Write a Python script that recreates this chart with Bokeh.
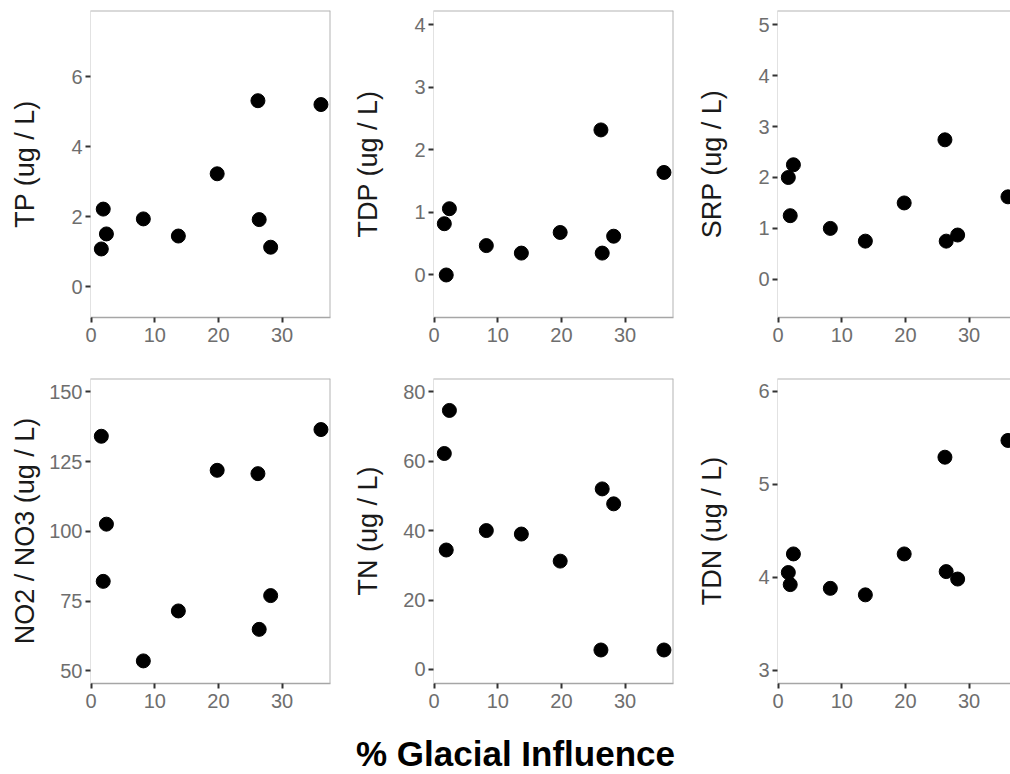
from bokeh.plotting import figure
from bokeh.layouts import column, row
from bokeh.models import FixedTicker, Range1d, Span, Label
from bokeh.embed import file_html
from bokeh.resources import INLINE

# ---- data ----
glacial = [1.6, 1.9, 2.4, 8.2, 13.7, 19.8, 26.2, 26.4, 28.2, 36.1]
tp = [1.08, 2.22, 1.51, 1.94, 1.45, 3.23, 5.32, 1.92, 1.13, 5.21]
tdp = [0.82, 0.00, 1.06, 0.47, 0.35, 0.68, 2.32, 0.35, 0.62, 1.64]
srp = [2.00, 1.25, 2.25, 1.00, 0.75, 1.50, 2.74, 0.75, 0.87, 1.62]
no2no3 = [134.1, 82.1, 102.6, 53.6, 71.5, 121.9, 120.7, 64.9, 77.0, 136.5]
tn = [62.2, 34.4, 74.6, 40.0, 39.0, 31.2, 5.6, 52.0, 47.7, 5.6]
tdn = [4.05, 3.92, 4.25, 3.88, 3.81, 4.25, 5.29, 4.06, 3.98, 5.47]

x_ticks = [0, 10, 20, 30]
labels = ["TP (ug / L)", "TDP (ug / L)", "SRP (ug / L)",
          "NO2 / NO3 (ug / L)", "TN (ug / L)", "TDN (ug / L)"]
y_ticks = [[0, 2, 4, 6], [0, 1, 2, 3, 4], [0, 1, 2, 3, 4, 5],
           [50, 75, 100, 125, 150], [0, 20, 40, 60, 80], [3, 4, 5, 6]]
y_lims = [(-0.88, 7.9), (-0.68, 4.23), (-0.75, 5.28),
          (45.5, 154.8), (-4.05, 83.8), (2.857, 6.136)]
series = [tp, tdp, srp, no2no3, tn, tdn]
x_title = "% Glacial Influence"

FONT = "Liberation Sans"
TICK_COL = "#6e6e6e"
BORDER = "#b3b3b3"


def panel(i, width, height, top, bottom, right_border, x_end, cut):
    f = figure(width=width, height=height, output_backend="svg",
               toolbar_location=None,
               x_range=Range1d(-0.1, x_end),
               y_range=Range1d(*y_lims[i]),
               min_border_left=90, min_border_right=right_border,
               min_border_top=top, min_border_bottom=bottom)
    f.outline_line_color = None
    f.background_fill_color = "white"
    f.border_fill_color = "white"
    f.grid.visible = False
    f.scatter(glacial, series[i], size=14, color="black")
    for ax in (f.xaxis[0], f.yaxis[0]):
        ax.major_tick_out = 5
        ax.major_tick_in = 0
        ax.minor_tick_out = 0
        ax.minor_tick_in = 0
        ax.major_tick_line_color = "#333333"
        ax.major_tick_line_width = 2
        ax.major_label_text_font = FONT
        ax.major_label_text_font_size = "20px"
        ax.major_label_text_color = TICK_COL
    f.xaxis.ticker = FixedTicker(ticks=x_ticks)
    f.yaxis.ticker = FixedTicker(ticks=y_ticks[i])
    f.xaxis.axis_line_color = "#a6a6a6"
    f.xaxis.axis_line_width = 1.5
    f.xaxis.major_label_standoff = 5
    f.yaxis.axis_line_color = "#e2e2e2"
    f.yaxis.axis_line_width = 1
    f.yaxis.major_label_standoff = 3
    f.yaxis.axis_label = labels[i]
    f.yaxis.axis_label_text_font = FONT
    f.yaxis.axis_label_text_font_size = "27px"
    f.yaxis.axis_label_text_font_style = "normal"
    f.yaxis.axis_label_text_color = "#1a1a1a"
    maxlab = max(len(str(t)) for t in y_ticks[i])
    f.yaxis.axis_label_standoff = {1: 28, 2: 17, 3: 6}[maxlab]
    f.add_layout(Span(location=y_lims[i][1], dimension="width",
                      line_color=BORDER, line_width=2))
    if not cut:
        f.add_layout(Span(location=x_end, dimension="height",
                          line_color=BORDER, line_width=2))
    return f


p1 = panel(0, 343, 365, 10, 48, 13, 37.6, False)
p2 = panel(1, 344, 365, 10, 48, 14, 37.6, False)
p3 = panel(2, 323, 365, 10, 48, 0, 36.5, True)
p4 = panel(3, 343, 358, 13, 40, 13, 37.6, False)
p5 = panel(4, 344, 358, 13, 40, 14, 37.6, False)
p6 = panel(5, 323, 358, 13, 40, 0, 36.5, True)

ft = figure(width=1010, height=49, output_backend="svg", toolbar_location=None,
            x_range=Range1d(0, 1010), y_range=Range1d(0, 49),
            x_axis_type=None, y_axis_type=None,
            min_border=0, min_border_left=0, min_border_right=0,
            min_border_top=0, min_border_bottom=0)
ft.outline_line_color = None
ft.grid.visible = False
ft.add_layout(Label(x=515, y=19, text=x_title, text_align="center",
                    text_baseline="middle", text_font=FONT,
                    text_font_size="35px", text_font_style="bold",
                    text_color="black"))

layout = column(row(p1, p2, p3), row(p4, p5, p6), ft)
open("out.html", "w").write(file_html(layout, INLINE))
